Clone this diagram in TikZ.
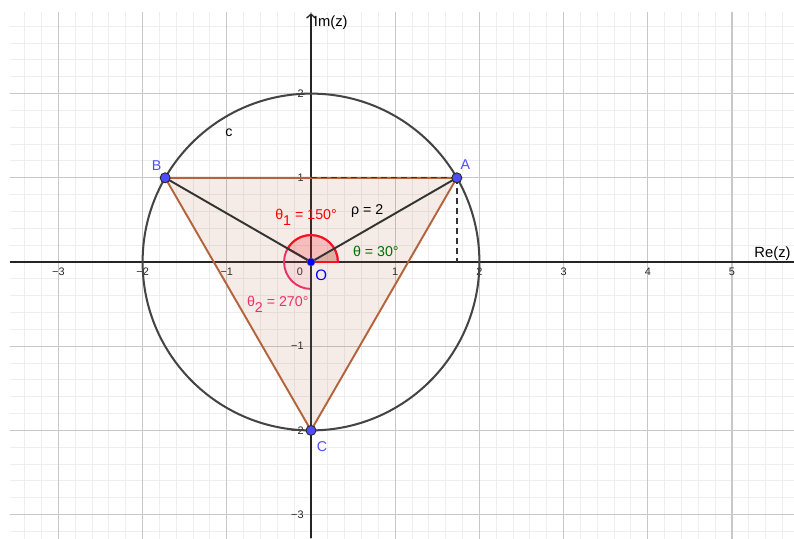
\documentclass[tikz,border=0pt]{standalone}
\usepackage{fontspec}
\setmainfont{Liberation Sans}
\usetikzlibrary{arrows.meta}
\definecolor{minorgrid}{RGB}{238,238,238}
\definecolor{majorgrid}{RGB}{200,200,200}
\definecolor{axiscol}{RGB}{37,37,37}
\definecolor{circcol}{RGB}{68,68,68}
\definecolor{segcol}{RGB}{51,51,51}
\definecolor{tricol}{RGB}{180,100,60}
\definecolor{ptfill}{RGB}{77,77,255}
\definecolor{ptlabel}{RGB}{77,77,255}
\definecolor{olabel}{RGB}{0,0,255}
\definecolor{thonecol}{RGB}{255,0,0}
\definecolor{thtwocol}{RGB}{235,50,100}
\definecolor{thcol}{RGB}{0,110,0}
\tikzset{
  lbl/.style={font=\fontsize{8.1}{9.5}\selectfont, inner sep=0pt},
  ticklbl/.style={font=\fontsize{6.2}{7.2}\selectfont, inner sep=0pt, text=black!85},
  axlbl/.style={font=\fontsize{8.4}{10}\selectfont, inner sep=0pt},
  bigpt/.style={circle, draw=black!85, line width=0.5pt, fill=ptfill, minimum size=0.2cm, inner sep=0pt},
  smallpt/.style={circle, draw=black!60, line width=0.3pt, fill=olabel, minimum size=0.16cm, inner sep=0pt},
  seg/.style={draw=segcol, line width=1.1pt},
  dashseg/.style={draw=segcol, line width=0.75pt, dash pattern=on 3.4pt off 2.3pt},
}
\begin{document}
\begin{tikzpicture}[x=1.684cm,y=1.684cm]
\useasboundingbox[fill=white] (-3.6936,-3.2779) rectangle (5.7363,3.1116);
% grid
\begin{scope}
\clip (-3.575,-3.2779) rectangle (5.7363,2.969);
\draw[minorgrid, line width=0.57pt, step=0.2] (-3.8,-3.4) grid (5.8,3.2);
\draw[majorgrid, line width=0.6pt, step=1] (-4,-4) grid (6,3);
\end{scope}
% axes
\coordinate (xl) at (-3.575,0);
\coordinate (xr) at (5.7363,0);
\coordinate (yb) at (0,-3.2779);
\coordinate (yt) at (0,2.953);
\draw[axiscol, line width=0.75pt] (xl) -- (xr);
\draw[axiscol, line width=0.75pt, -{Straight Barb[length=2.2pt,width=5pt]}] (yb) -- (yt);
\node[axlbl, anchor=center] (rez) at (5.481,0.099) {Re(z)};
\node[axlbl, anchor=center] (imz) at (0.235,2.838) {Im(z)};
% tick labels
\node[ticklbl] (txm3) at (-3,-0.119) {−3};
\node[ticklbl] (txm2) at (-2,-0.119) {−2};
\node[ticklbl] (txm1) at (-1,-0.119) {−1};
\foreach \k in {1,2,3,4,5} {
  \node[ticklbl] (tx\k) at (\k,-0.119) {\k};
}
\node[ticklbl, anchor=east] (tym3) at (-0.083,-3) {−3};
\node[ticklbl, anchor=east] (tym2) at (-0.083,-2) {−2};
\node[ticklbl, anchor=east] (tym1) at (-0.083,-1) {−1};
\node[ticklbl, anchor=east] (ty1) at (-0.083,1) {1};
\node[ticklbl, anchor=east] (ty2) at (-0.083,2) {2};
\node[ticklbl] (t0) at (-0.131,-0.119) {0};
% points (coordinates)
\coordinate (Op) at (0,0);
\coordinate (Ap) at (1.7320508,1);
\coordinate (Bp) at (-1.7320508,1);
\coordinate (Cp) at (0,-2);
\coordinate (Ax) at (1.7320508,0);
\coordinate (Ay) at (0,1);
% triangle
\draw[tricol, line width=1.1pt, fill=tricol, fill opacity=0.12, line join=round] (Ap) -- (Bp) -- (Cp) -- cycle;
% angle sectors
\fill[thcol, fill opacity=0.12] (Op) -- ++(0:0.32) arc[start angle=0, end angle=30, radius=0.32] -- cycle;
\draw[thtwocol, line width=1.1pt, fill=thtwocol, fill opacity=0.08] (Op) -- ++(0:0.32) arc[start angle=0, end angle=270, radius=0.32] -- cycle;
\draw[thonecol!70!thtwocol, line width=1.1pt, fill=thonecol, fill opacity=0.14] (Op) -- ++(0:0.32) arc[start angle=0, end angle=150, radius=0.32] -- cycle;
% circle c
\draw[circcol, line width=1.15pt] (Op) circle[radius=2];
% segments
\draw[seg] (Op) -- (Ap);
\draw[seg] (Op) -- (Bp);
\draw[seg] (Op) -- (Cp);
\draw[dashseg] (Ap) -- (Ax);
\draw[dashseg] (Ap) -- (Ay);
% point markers
\node[bigpt] (A) at (Ap) {};
\node[bigpt] (B) at (Bp) {};
\node[bigpt] (C) at (Cp) {};
\node[smallpt] (O) at (Op) {};
% labels
\node[lbl, text=ptlabel] (Alab) at (1.833,1.156) {A};
\node[lbl, text=ptlabel] (Blab) at (-1.833,1.146) {B};
\node[lbl, text=ptlabel] (Clab) at (0.131,-2.197) {C};
\node[lbl, text=olabel, font=\fontsize{8.6}{10}\selectfont] (Olab) at (0.121,-0.160) {O};
\node[lbl] (clab) at (-0.974,1.532) {c};
\node[lbl, anchor=base west, text=thonecol] (th1) at (-0.428,0.507) {θ\raisebox{-3.4pt}{1} = 150°};
\node[lbl, anchor=base west] (rho) at (0.471,0.566) {ρ = 2};
\node[lbl, anchor=base west, text=thcol] (th) at (0.495,0.063) {θ = 30°};
\node[lbl, anchor=base west, text=thtwocol] (th2) at (-0.764,-0.531) {θ\raisebox{-3.4pt}{2} = 270°};
\end{tikzpicture}
\end{document}
